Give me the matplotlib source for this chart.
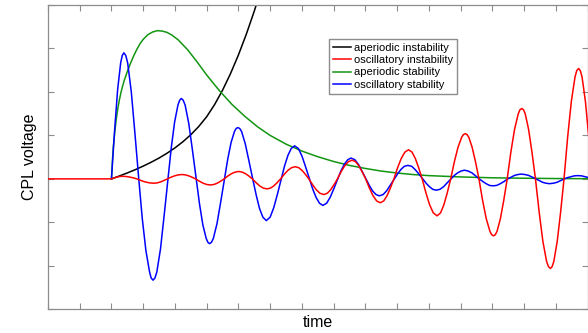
import matplotlib
matplotlib.use("Agg")
import matplotlib.pyplot as plt

plt.rcParams['font.family'] = ['Liberation Sans', 'DejaVu Sans']

# Values (time, CPL voltage)
labels = ["aperiodic instability", "oscillatory instability",
          "aperiodic stability", "oscillatory stability"]
colors = ["#000000", "#ff0000", "#129612", "#0000ff"]

black_t = [2.0, 2.25, 2.5, 2.75, 3.0, 3.25, 3.5, 3.75, 4.0, 4.25, 4.5, 4.75,
           5.0, 5.25, 5.5, 5.75, 6.0, 6.25, 6.5, 6.75]
black_v = [0, 0.067, 0.137, 0.212, 0.294, 0.383, 0.48, 0.59, 0.713, 0.854,
           1.016, 1.205, 1.43, 1.71, 2.04, 2.42, 2.85, 3.33, 3.86, 4.44]

green_t = [2.00, 2.03, 2.06, 2.10, 2.15, 2.20, 2.25, 2.30, 2.35, 2.40, 2.50,
           2.60, 2.70, 2.80, 2.90, 3.00, 3.15, 3.30, 3.45, 3.60, 3.75, 3.90,
           4.10, 4.40, 4.70, 5.00, 5.40, 5.80, 6.20, 6.60, 7.00, 7.50, 8.00,
           8.50, 9.00, 9.50, 10.0, 10.5, 11.0, 11.5, 12.0, 13.0, 14.0, 15.0,
           16.0, 17.0]
green_v = [0, 0.42, 0.75, 1.05, 1.37, 1.62, 1.82, 1.99, 2.13, 2.26, 2.47,
           2.66, 2.83, 2.98, 3.11, 3.21, 3.32, 3.38, 3.41, 3.40, 3.37, 3.31,
           3.20, 2.97, 2.69, 2.39, 2.03, 1.71, 1.44, 1.20, 1.00, 0.80, 0.64,
           0.51, 0.40, 0.31, 0.24, 0.18, 0.135, 0.10, 0.075, 0.045, 0.025,
           0.015, 0.008, 0.004]

blue_t = [2.00, 2.10, 2.195, 2.29, 2.34, 2.39, 2.45, 2.51, 2.625, 2.74, 2.86,
          2.97, 3.085, 3.20, 3.25, 3.31, 3.37, 3.43, 3.545, 3.66, 3.78,
          3.885, 3.99, 4.095, 4.15, 4.20, 4.26, 4.32, 4.435, 4.55, 4.67,
          4.775, 4.88, 4.985, 5.04, 5.09, 5.15, 5.21, 5.325, 5.44, 5.56,
          5.665, 5.77, 5.875, 5.93, 5.98, 6.04, 6.10, 6.215, 6.33, 6.45,
          6.56, 6.665, 6.77, 6.88, 7.00, 7.115, 7.23, 7.35,
          7.455, 7.56, 7.665, 7.77, 7.89, 8.005, 8.12, 8.24,
          8.345, 8.45, 8.555, 8.66, 8.78, 8.895, 9.01, 9.13,
          9.235, 9.34, 9.445, 9.55, 9.67, 9.785, 9.90, 10.02,
          10.125, 10.23, 10.335, 10.44, 10.56, 10.675, 10.79, 10.91,
          11.02, 11.125, 11.23, 11.34, 11.46, 11.575, 11.69, 11.81,
          11.915, 12.02, 12.125, 12.23, 12.35, 12.465, 12.58, 12.70,
          12.805, 12.91, 13.015, 13.12, 13.24, 13.355, 13.47, 13.59,
          13.70, 13.805, 13.91, 14.02, 14.14, 14.255, 14.37, 14.49,
          14.595, 14.70, 14.805, 14.91, 15.03, 15.145, 15.26, 15.38,
          15.485, 15.59, 15.695, 15.80, 15.92, 16.035, 16.15, 16.27,
          16.375, 16.48, 16.585, 16.69, 16.81, 16.925, 17.04, 17.16]
blue_v = [0, 1.13, 2.06, 2.67, 2.84, 2.90, 2.84, 2.67, 2.00, 1.04, 0,
          -0.91, -1.65, -2.14, -2.28, -2.33, -2.28, -2.14, -1.61, -0.84, 0,
          0.72, 1.31, 1.70, 1.81, 1.85, 1.81, 1.70, 1.28, 0.67, 0,
          -0.58, -1.06, -1.37, -1.46, -1.49, -1.46, -1.37, -1.03, -0.54, 0,
          0.46, 0.84, 1.09, 1.16, 1.18, 1.16, 1.09, 0.81, 0.42, 0,
          -0.37, -0.68, -0.88, -0.96, -0.88, -0.66, -0.35, 0,
          0.30, 0.54, 0.70, 0.76, 0.70, 0.52, 0.27, 0,
          -0.24, -0.43, -0.56, -0.61, -0.56, -0.42, -0.22, 0,
          0.19, 0.34, 0.44, 0.48, 0.44, 0.33, 0.17, 0,
          -0.15, -0.28, -0.36, -0.39, -0.36, -0.27, -0.14, 0,
          0.12, 0.22, 0.29, 0.31, 0.29, 0.21, 0.11, 0,
          -0.10, -0.18, -0.24, -0.26, -0.24, -0.18, -0.09, 0,
          0.08, 0.14, 0.18, 0.20, 0.18, 0.14, 0.07, 0,
          -0.06, -0.11, -0.15, -0.16, -0.15, -0.11, -0.06, 0,
          0.04, 0.08, 0.10, 0.11, 0.10, 0.08, 0.04, 0,
          -0.04, -0.08, -0.10, -0.11, -0.10, -0.08, -0.04, 0,
          0.03, 0.05, 0.07, 0.075, 0.07, 0.05, 0.03, 0]

red_t = [0.0, 2.00,
         2.09, 2.175, 2.26, 2.35, 2.46, 2.575, 2.69, 2.80,
         2.93, 3.065, 3.20, 3.33, 3.44, 3.545, 3.65, 3.76,
         3.875, 3.99, 4.105, 4.22, 4.33, 4.435, 4.54, 4.65,
         4.77, 4.885, 5.00, 5.12, 5.23, 5.335, 5.44, 5.55,
         5.665, 5.78, 5.895, 6.01, 6.12, 6.225, 6.33, 6.44,
         6.555, 6.67, 6.785, 6.90, 7.01, 7.115, 7.22, 7.33,
         7.445, 7.56, 7.675, 7.79, 7.90, 8.005, 8.11, 8.22,
         8.34, 8.455, 8.57, 8.69, 8.80, 8.905, 9.01, 9.12,
         9.235, 9.35, 9.465, 9.58, 9.69, 9.795, 9.90, 10.01,
         10.125, 10.24, 10.355, 10.47, 10.58, 10.685, 10.79, 10.90,
         11.015, 11.13, 11.245, 11.36, 11.47, 11.575, 11.68, 11.79,
         11.91, 12.025, 12.14, 12.26, 12.37, 12.475, 12.58, 12.69,
         12.805, 12.92, 13.035, 13.09, 13.15, 13.205, 13.26, 13.365, 13.47, 13.58,
         13.695, 13.81, 13.925, 13.98, 14.04, 14.095, 14.15, 14.255, 14.36, 14.47,
         14.585, 14.70, 14.815, 14.87, 14.93, 14.985, 15.04, 15.145, 15.25, 15.36,
         15.48, 15.595, 15.71, 15.77, 15.83, 15.885, 15.94, 16.045, 16.15, 16.26,
         16.375, 16.49, 16.605, 16.66, 16.72, 16.775, 16.83, 16.935, 17.04, 17.15]
red_v = [0, 0,
         0.023, 0.042, 0.055, 0.06, 0.055, 0.042, 0.023, 0,
         -0.038, -0.07, -0.092, -0.10, -0.092, -0.07, -0.038, 0,
         0.038, 0.07, 0.092, 0.10, 0.092, 0.07, 0.038, 0,
         -0.053, -0.098, -0.129, -0.14, -0.129, -0.098, -0.053, 0,
         0.065, 0.119, 0.156, 0.17, 0.156, 0.119, 0.065, 0,
         -0.087, -0.161, -0.212, -0.23, -0.212, -0.161, -0.087, 0,
         0.106, 0.196, 0.258, 0.28, 0.258, 0.196, 0.106, 0,
         -0.137, -0.252, -0.331, -0.36, -0.331, -0.252, -0.137, 0,
         0.163, 0.301, 0.396, 0.43, 0.396, 0.301, 0.163, 0,
         -0.209, -0.385, -0.506, -0.55, -0.506, -0.385, -0.209, 0,
         0.255, 0.469, 0.616, 0.67, 0.616, 0.469, 0.255, 0,
         -0.323, -0.595, -0.782, -0.85, -0.782, -0.595, -0.323, 0,
         0.395, 0.728, 0.957, 1.019, 1.04, 1.019, 0.957, 0.728, 0.395, 0,
         -0.498, -0.917, -1.205, -1.284, -1.31, -1.284, -1.205, -0.917, -0.498, 0,
         0.616, 1.134, 1.49, 1.588, 1.62, 1.588, 1.49, 1.134, 0.616, 0,
         -0.783, -1.442, -1.895, -2.019, -2.06, -2.019, -1.895, -1.442, -0.783, 0,
         0.965, 1.778, 2.337, 2.489, 2.54, 2.489, 2.337, 1.778, 0.965, 0]

x_ticks = list(range(0, 18))
y_ticks = list(range(-3, 5))

fig = plt.figure(figsize=(5.88, 3.33), dpi=100)
ax = fig.add_axes([48 / 588, 1 - 309.3 / 333, (587.5 - 48) / 588, (309.3 - 5) / 333])

series = [(black_t, black_v), (red_t, red_v), (green_t, green_v), (blue_t, blue_v)]
lines = []
for (t, v), lab, col in zip(series, labels, colors):
    ln, = ax.plot(t, v, color=col, lw=1.1, label=lab)
    lines.append(ln)
lines[1].set_zorder(3)  # red sits on top, as in the flat start

ax.set_xlim(0, 17)
ax.set_ylim(-3, 4)
ax.set_xticks(x_ticks)
ax.set_yticks(y_ticks)
ax.tick_params(direction='in', top=True, right=True, labelbottom=False,
               labelleft=False, length=4, width=0.8, color='#8c8c8c')
for sp in ax.spines.values():
    sp.set_color('#8c8c8c')
    sp.set_linewidth(0.9)

ax.set_xlabel("time", fontsize=11.5, labelpad=4)
ax.set_ylabel("CPL voltage", fontsize=11.5, labelpad=8)

ax.legend(handles=lines, loc='upper left', bbox_to_anchor=(328.5 / 588, 1 - 38.5 / 333),
          bbox_transform=fig.transFigure, fontsize=8, fancybox=False,
          edgecolor='#8c8c8c', framealpha=1, handlelength=1.6,
          handletextpad=0.25, labelspacing=0.2, borderpad=0.4, borderaxespad=0)

fig.savefig("out.png", dpi=100)
